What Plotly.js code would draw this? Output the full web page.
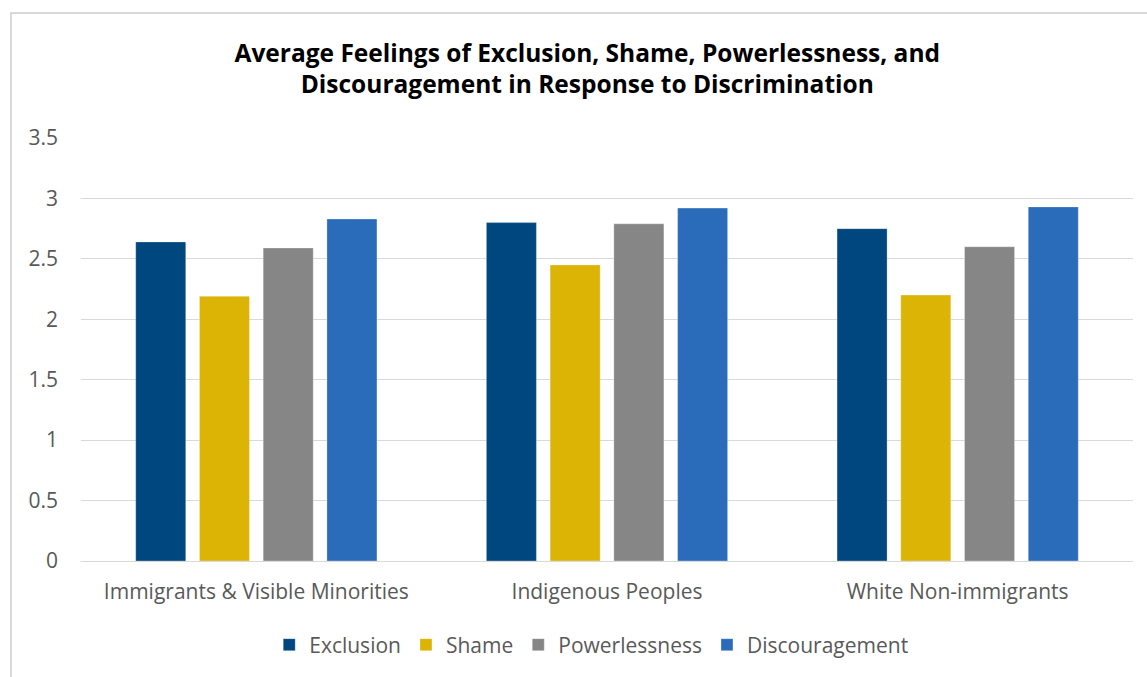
<!DOCTYPE html>
<html>
<head>
<meta charset="utf-8">
<script src="https://cdn.plot.ly/plotly-3.0.1.min.js"></script>
<style>
  html, body { margin: 0; padding: 0; background: #fff; }
  #chart { width: 1147px; height: 677px; position: absolute; left: 0; top: 0; }
  #frame { position: absolute; left: 10px; top: 12px; width: 1200px; height: 700px;
           border-left: 2px solid #d9d9d9; border-top: 2px solid #d9d9d9; pointer-events: none; }
</style>
</head>
<body>
<div id="chart"></div>
<div id="frame"></div>
<script>
const categories = ["Immigrants & Visible Minorities", "Indigenous Peoples", "White Non-immigrants"];
const seriesNames = ["Exclusion", "Shame", "Powerlessness", "Discouragement"];
const exclusion = [2.64, 2.80, 2.75];
const shame = [2.19, 2.45, 2.20];
const powerlessness = [2.59, 2.79, 2.60];
const discouragement = [2.83, 2.92, 2.93];
const colors = ["#00467F", "#DBB405", "#868686", "#2A6CBA"];
const yTicks = [0, 0.5, 1, 1.5, 2, 2.5, 3, 3.5];
const yTickText = ["0", "0.5", "1", "1.5", "2", "2.5", "3", "3.5"];

const seriesValues = [exclusion, shame, powerlessness, discouragement];
const traces = seriesNames.map((name, i) => ({
  type: "bar",
  name: name,
  x: categories,
  y: seriesValues[i],
  marker: { color: colors[i], line: { color: "rgba(255,255,255,0.5)", width: 0.6 } },
  hoverinfo: "x+y+name"
}));

const font = "'Open Sans', sans-serif";
const layout = {
  width: 1147,
  height: 677,
  margin: { l: 81, r: 14, t: 138, b: 116 },
  paper_bgcolor: "#ffffff",
  plot_bgcolor: "#ffffff",
  font: { family: font, color: "#595959", size: 20.5 },
  title: {
    text: "<b>Average Feelings of Exclusion, Shame, Powerlessness, and<br>Discouragement in Response to Discrimination</b>",
    font: { family: font, size: 24.5, color: "#000000" },
    x: 0.512, xanchor: "center",
    y: 1 - 61.5 / 677, yanchor: "middle", yref: "container"
  },
  barmode: "group",
  bargap: 0.273,
  bargroupgap: 0.215,
  xaxis: {
    type: "category",
    showgrid: false,
    showline: true,
    linecolor: "#d9d9d9",
    linewidth: 1,
    ticks: "",
    tickfont: { family: font, size: 21, color: "#595959" },
    ticklabelstandoff: 12,
    zeroline: false
  },
  yaxis: {
    range: [0, 3.5],
    tickvals: yTicks,
    ticktext: yTickText,
    showgrid: true,
    gridcolor: "#d9d9d9",
    gridwidth: 1,
    zeroline: false,
    showline: false,
    ticks: "",
    tickfont: { family: font, size: 21, color: "#595959" },
    ticklabelstandoff: 22
  },
  showlegend: true,
  legend: {
    orientation: "h",
    x: 0.485, xanchor: "center",
    y: (561 - 645) / 423, yanchor: "middle",
    font: { family: font, size: 21, color: "#595959" },
    itemwidth: 30,
    tracegroupgap: 0
  }
};

Plotly.newPlot("chart", traces, layout, { displayModeBar: false, staticPlot: false });
</script>
</body>
</html>
